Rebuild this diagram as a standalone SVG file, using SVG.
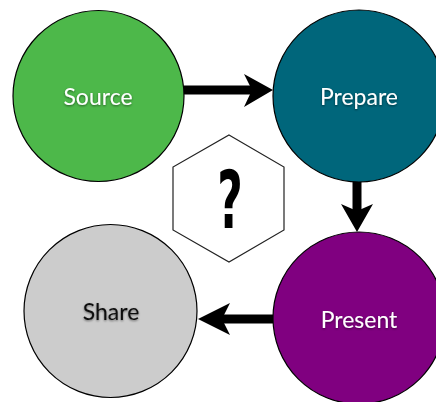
<svg xmlns="http://www.w3.org/2000/svg" width="436" height="402" viewBox="0 0 436 402">
<defs>
<style>
.node{stroke:#000;stroke-width:1.2}
.lbl{font-family:Lato,"Open Sans",sans-serif;font-size:23px;text-anchor:middle;fill:#fff}
.dark{fill:#111}
.conn line{stroke:#000;stroke-width:9}
.conn path{fill:#000}
</style>
<filter id="sh" x="-20%" y="-40%" width="140%" height="180%">
<feDropShadow dx="0" dy="1" stdDeviation="1.2" flood-color="#000" flood-opacity="0.5"/>
</filter>
</defs>
<rect width="436" height="402" fill="#fff"/>
<g id="connectors" class="conn">
<line x1="184" y1="90" x2="252" y2="90"/>
<path d="M273,90 L244,74 L252,90 L244,107 Z"/>
<line x1="357" y1="180" x2="357" y2="212"/>
<path d="M357,232 L341,204 L357,211 L373,204 Z"/>
<line x1="273" y1="319" x2="220" y2="319"/>
<path d="M198,319 L230,303 L222,319 L230,335 Z"/>
</g>
<g id="source">
<circle class="node" cx="98.5" cy="96" r="85.5" fill="#4db84a"/>
<text class="lbl" x="98" y="105" filter="url(#sh)">Source</text>
</g>
<g id="prepare">
<circle class="node" cx="359" cy="96" r="86" fill="#00667b"/>
<text class="lbl" x="359" y="105" filter="url(#sh)">Prepare</text>
</g>
<g id="share">
<circle class="node" cx="110.5" cy="311" r="86.5" fill="#cccccc"/>
<text class="lbl dark" x="111" y="320" filter="url(#sh)">Share</text>
</g>
<g id="present">
<circle class="node" cx="359" cy="318" r="86" fill="#800080"/>
<text class="lbl" x="359" y="328" filter="url(#sh)">Present</text>
</g>
<g id="unknown">
<polygon points="229,135 284,167 284,230 229,262 173,230 173,167" fill="#fff" stroke="#222" stroke-width="1.2"/>
<text x="0" y="0" transform="translate(230,228) scale(0.55,1)" font-family="'DejaVu Sans',sans-serif" font-weight="bold" font-size="80" text-anchor="middle" fill="#000">?</text>
</g>
</svg>
